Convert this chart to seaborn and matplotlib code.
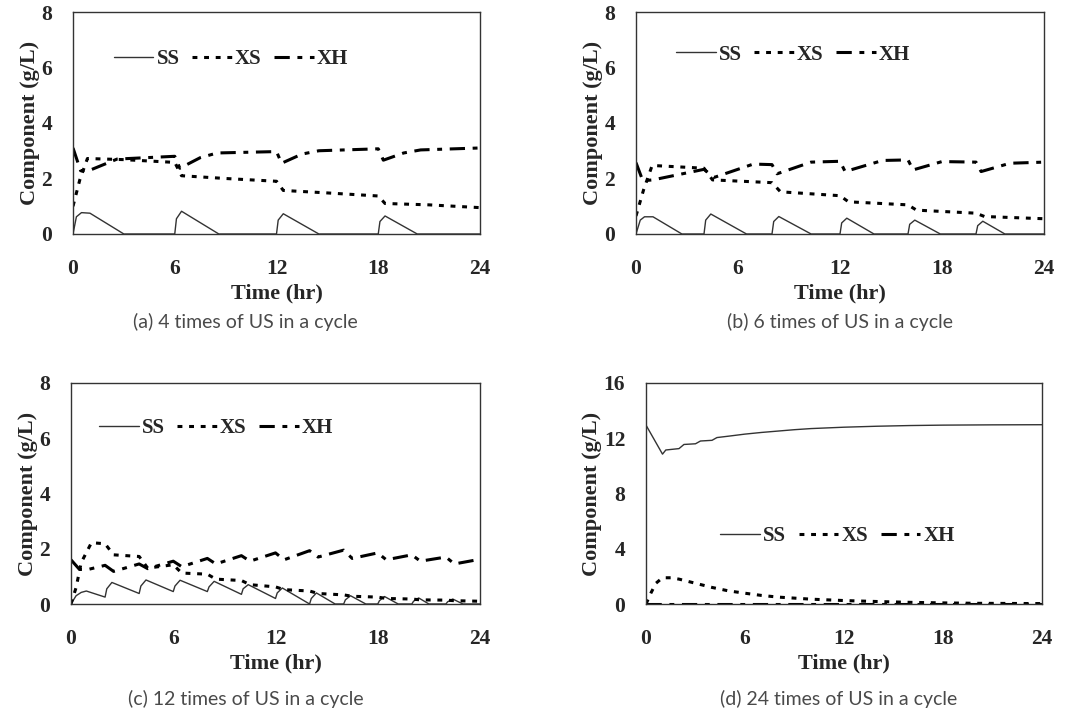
import matplotlib
matplotlib.use("Agg")
import matplotlib.pyplot as plt
import seaborn as sns

sns.set_style("white")
plt.rcParams["font.family"] = ["Liberation Serif", "DejaVu Serif"]
plt.rcParams["font.weight"] = "bold"
plt.rcParams["axes.labelweight"] = "bold"

# ---- (a) 4 times of US in a cycle
a_ss_t = [0, 0.2, 0.5, 1.0, 3.0, 6.0, 6.1, 6.4, 8.6, 12.0, 12.1, 12.4, 14.5, 18.0, 18.1, 18.4, 20.3, 24]
a_ss = [0, 0.62, 0.77, 0.75, 0, 0, 0.55, 0.82, 0, 0, 0.5, 0.73, 0, 0, 0.45, 0.65, 0, 0]
a_xs_t = [0, 0.4, 0.85, 3.0, 6.0, 6.4, 9.0, 12.0, 12.4, 15.0, 18.0, 18.4, 21.0, 24]
a_xs = [1.0, 1.95, 2.72, 2.68, 2.58, 2.1, 2.0, 1.9, 1.57, 1.48, 1.37, 1.1, 1.05, 0.95]
a_xh_t = [0, 0.45, 1.0, 2.6, 6.0, 6.3, 7.5, 8.5, 12.0, 12.3, 13.5, 14.5, 18.0, 18.3, 19.5, 20.5, 24]
a_xh = [3.1, 2.28, 2.3, 2.7, 2.8, 2.37, 2.75, 2.92, 2.97, 2.55, 2.88, 3.0, 3.07, 2.66, 2.92, 3.03, 3.1]

# ---- (b) 6 times of US in a cycle
b_ss_t = [0, 0.25, 0.5, 1.0, 2.7, 4.0, 4.1, 4.4, 6.5, 8.0, 8.1, 8.4, 10.3, 12.0, 12.1, 12.4, 14.0,
          16.0, 16.1, 16.4, 17.9, 20.0, 20.1, 20.4, 21.7, 24]
b_ss = [0, 0.5, 0.62, 0.62, 0, 0, 0.5, 0.72, 0, 0, 0.45, 0.63, 0, 0, 0.4, 0.57, 0,
        0, 0.35, 0.5, 0, 0, 0.3, 0.46, 0, 0]
b_xs_t = [0, 0.45, 0.95, 4.0, 4.5, 8.0, 8.5, 12.0, 12.5, 16.0, 16.5, 20.0, 20.5, 24]
b_xs = [0.65, 1.6, 2.47, 2.37, 1.95, 1.85, 1.52, 1.38, 1.16, 1.05, 0.86, 0.75, 0.63, 0.55]
b_xh_t = [0, 0.4, 1.0, 4.0, 4.6, 6.9, 8.0, 8.3, 10.3, 12.0, 12.3, 14.5, 16.0, 16.3, 18.0, 20.0,
          20.3, 22.0, 24]
b_xh = [2.57, 1.92, 1.95, 2.33, 2.04, 2.52, 2.5, 2.17, 2.59, 2.62, 2.25, 2.65, 2.67, 2.31, 2.61,
        2.59, 2.25, 2.55, 2.59]

# ---- (c) 12 times of US in a cycle
c_ss_t = [0, 0.3, 0.6, 0.9, 2.0, 2.1, 2.4, 4.0, 4.1, 4.4, 6.0, 6.1, 6.4, 8.0, 8.1, 8.4, 10.0, 10.1,
          10.4, 12.0, 12.1, 12.4, 14.0, 14.1, 14.4, 15.5, 16.0, 16.1, 16.4, 17.3, 18.0, 18.1, 18.4,
          19.2, 20.0, 20.1, 20.4, 21.0, 22.0, 22.1, 22.4, 23.0, 24]
c_ss = [0, 0.3, 0.42, 0.47, 0.25, 0.55, 0.78, 0.38, 0.65, 0.87, 0.45, 0.65, 0.86, 0.45, 0.62,
        0.82, 0.35, 0.55, 0.7, 0.2, 0.4, 0.58, 0, 0.2, 0.4, 0, 0, 0.15, 0.3, 0, 0, 0.12, 0.27,
        0, 0, 0.1, 0.22, 0, 0, 0.08, 0.18, 0, 0]
c_xs_t = [0, 0.3, 0.6, 1.2, 2.0, 2.5, 4.0, 4.5, 6.0, 6.5, 8.0, 8.5, 10.0, 10.5, 12.0, 12.5, 14.0,
          14.5, 16.0, 16.5, 18.0, 18.5, 20.0, 20.5, 22.0, 22.5, 24]
c_xs = [0.0, 0.6, 1.5, 2.22, 2.18, 1.78, 1.72, 1.3, 1.42, 1.12, 1.08, 0.9, 0.85, 0.7, 0.62, 0.52,
        0.47, 0.38, 0.33, 0.28, 0.25, 0.2, 0.18, 0.15, 0.14, 0.12, 0.1]
c_xh_t = [0, 0.5, 1.0, 2.0, 2.5, 4.0, 4.5, 6.0, 6.5, 8.0, 8.5, 10.0, 10.5, 12.0, 12.5, 14.0, 14.5,
          16.0, 16.5, 18.0, 18.5, 20.0, 20.5, 22.0, 22.5, 24]
c_xh = [1.6, 1.25, 1.25, 1.4, 1.18, 1.45, 1.28, 1.55, 1.35, 1.65, 1.45, 1.75, 1.55, 1.85, 1.6,
        1.93, 1.7, 1.95, 1.65, 1.85, 1.6, 1.78, 1.55, 1.7, 1.45, 1.62]

# ---- (d) 24 times of US in a cycle
d_ss_t = [0, 1.0, 1.2, 2.0, 2.3, 3.0, 3.3, 4.0, 4.3, 5.0, 6.0, 7.0, 8.0, 9.0, 10.0, 12.0, 14.0,
          16.0, 18.0, 21.0, 24.0]
d_ss = [12.95, 10.85, 11.15, 11.25, 11.55, 11.6, 11.8, 11.85, 12.05, 12.15, 12.3, 12.42, 12.52,
        12.62, 12.7, 12.8, 12.87, 12.92, 12.95, 12.97, 12.98]
d_xs_t = [0, 0.3, 0.6, 1.0, 1.5, 2.0, 3.0, 4.0, 5.0, 6.0, 7.0, 8.0, 10.0, 12.0, 14.0, 16.0, 18.0,
          20.0, 24.0]
d_xs = [0, 0.8, 1.5, 1.9, 1.9, 1.8, 1.5, 1.2, 0.95, 0.78, 0.62, 0.5, 0.35, 0.25, 0.18, 0.12,
        0.08, 0.05, 0.03]
d_xh_t = [0, 6, 12, 18, 24]
d_xh = [0.03, 0.03, 0.03, 0.03, 0.03]

panels = [
    ("(a) 4 times of US in a cycle", (a_ss_t, a_ss), (a_xs_t, a_xs), (a_xh_t, a_xh), 8),
    ("(b) 6 times of US in a cycle", (b_ss_t, b_ss), (b_xs_t, b_xs), (b_xh_t, b_xh), 8),
    ("(c) 12 times of US in a cycle", (c_ss_t, c_ss), (c_xs_t, c_xs), (c_xh_t, c_xh), 8),
    ("(d) 24 times of US in a cycle", (d_ss_t, d_ss), (d_xs_t, d_xs), (d_xh_t, d_xh), 16),
]

W, H = 1068, 714
# axes boxes in pixels: left, top, right, bottom
boxes = [(73, 12, 480, 234), (636, 12, 1044, 234), (71, 383, 480, 604), (646, 383, 1042, 604)]
legend_anchor = [(0.08, 0.87), (0.078, 0.89), (0.048, 0.88), (0.167, 0.39)]
captions = [(245, 322), (840, 322), (246, 699), (839, 699)]

fig = plt.figure(figsize=(W / 100, H / 100), dpi=100)

for (cap, ss, xs, xh, ymax), (l, t, r, b), anc, (cx, cy) in zip(panels, boxes, legend_anchor, captions):
    ax = fig.add_axes([l / W, 1 - b / H, (r - l) / W, (b - t) / H])
    sns.lineplot(x=ss[0], y=ss[1], ax=ax, color="#333333", linewidth=1.0, label="SS",
                 estimator=None, sort=False)
    sns.lineplot(x=xs[0], y=xs[1], ax=ax, color="black", linewidth=2.2,
                 linestyle=(0, (1.6, 2.2)), label="XS", estimator=None, sort=False)
    sns.lineplot(x=xh[0], y=xh[1], ax=ax, color="black", linewidth=2.2,
                 linestyle=(0, (5, 2.5, 1.6, 2.5)), label="XH", estimator=None, sort=False)
    ax.set_xlim(0, 24)
    ax.set_ylim(0, ymax)
    ax.set_xticks([0, 6, 12, 18, 24])
    ax.set_yticks(range(0, ymax + 1, ymax // 4))
    ax.tick_params(direction="in", length=4, width=1, color="#333333", labelsize=15.5)
    ax.tick_params(axis="x", pad=18)
    ax.tick_params(axis="y", pad=15)
    for sp in ax.spines.values():
        sp.set_visible(True)
        sp.set_color("#333333")
        sp.set_linewidth(1.0)
    ax.set_xlabel("Time (hr)", fontsize=16, labelpad=3)
    ax.set_ylabel("Component (g/L)", fontsize=16, labelpad=1)
    ax.legend(loc="upper left", bbox_to_anchor=anc, ncol=3, frameon=False,
              prop={"family": "Liberation Serif", "weight": "bold", "size": 15},
              handlelength=1.9, handletextpad=0.15, columnspacing=0.6, borderaxespad=0)
    fig.text(cx / W, 1 - cy / H, cap, ha="center", va="center", fontsize=14,
             family=["Lato", "DejaVu Sans"], fontweight="normal", color="#4a4a4a")

fig.savefig("out.png", dpi=100)
